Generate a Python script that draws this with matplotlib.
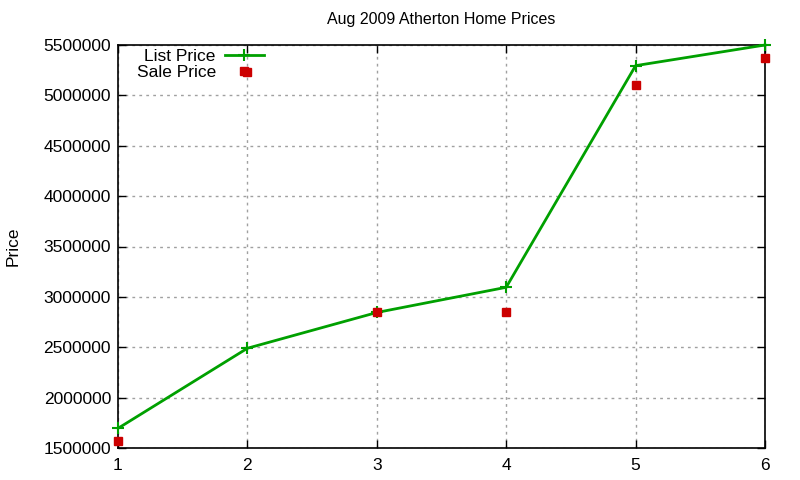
import matplotlib
matplotlib.use("Agg")
import matplotlib.pyplot as plt

plt.rcParams['font.family'] = ['Liberation Sans', 'DejaVu Sans']

x = [1, 2, 3, 4, 5, 6]
list_price = [1695000, 2490000, 2845000, 3095000, 5295000, 5500000]
sale_price = [1565000, 5230000, 2845000, 2845000, 5100000, 5375000]
yticks = [1500000, 2000000, 2500000, 3000000, 3500000, 4000000, 4500000, 5000000, 5500000]

fig = plt.figure(figsize=(8, 4.8), dpi=100)
ax = fig.add_axes([118/800, 32/480, (765-118)/800, (448-45)/480])

ax.plot(x, list_price, color='#00a000', lw=2, marker='+', ms=9, mew=1.5,
        label='List Price', clip_on=False, zorder=3)
ax.plot(x, sale_price, color='#cc0000', lw=0, marker='s', ms=6,
        label='Sale Price', clip_on=False, zorder=4)

ax.set_xlim(1, 6)
ax.set_ylim(1500000, 5500000)
ax.set_xticks(x)
ax.set_yticks(yticks)
ax.set_yticklabels([str(v) for v in yticks])
ax.tick_params(direction='in', length=6, width=1, labelsize=12.5,
               top=True, right=True, pad=5)
ax.tick_params(axis='x', pad=7)
ax.grid(True, color='#a0a0a0', linestyle=(0, (2, 3)), lw=1)
for s in ax.spines.values():
    s.set_linewidth(1.2)

ax.set_title('Aug 2009 Atherton Home Prices', fontsize=11.5, pad=15)
fig.text(13/800, 1 - 246/480, 'Price', rotation=90, fontsize=12.5,
         ha='center', va='center')

leg = ax.legend(loc='upper left', bbox_to_anchor=(0.018, 1.008), frameon=False,
                markerfirst=False, fontsize=12.5, handlelength=2.3,
                borderaxespad=0.0, labelspacing=0.05, handletextpad=0.5)
for t in leg.get_texts():
    t.set_ha('right')

fig.savefig('out.png', dpi=100)
